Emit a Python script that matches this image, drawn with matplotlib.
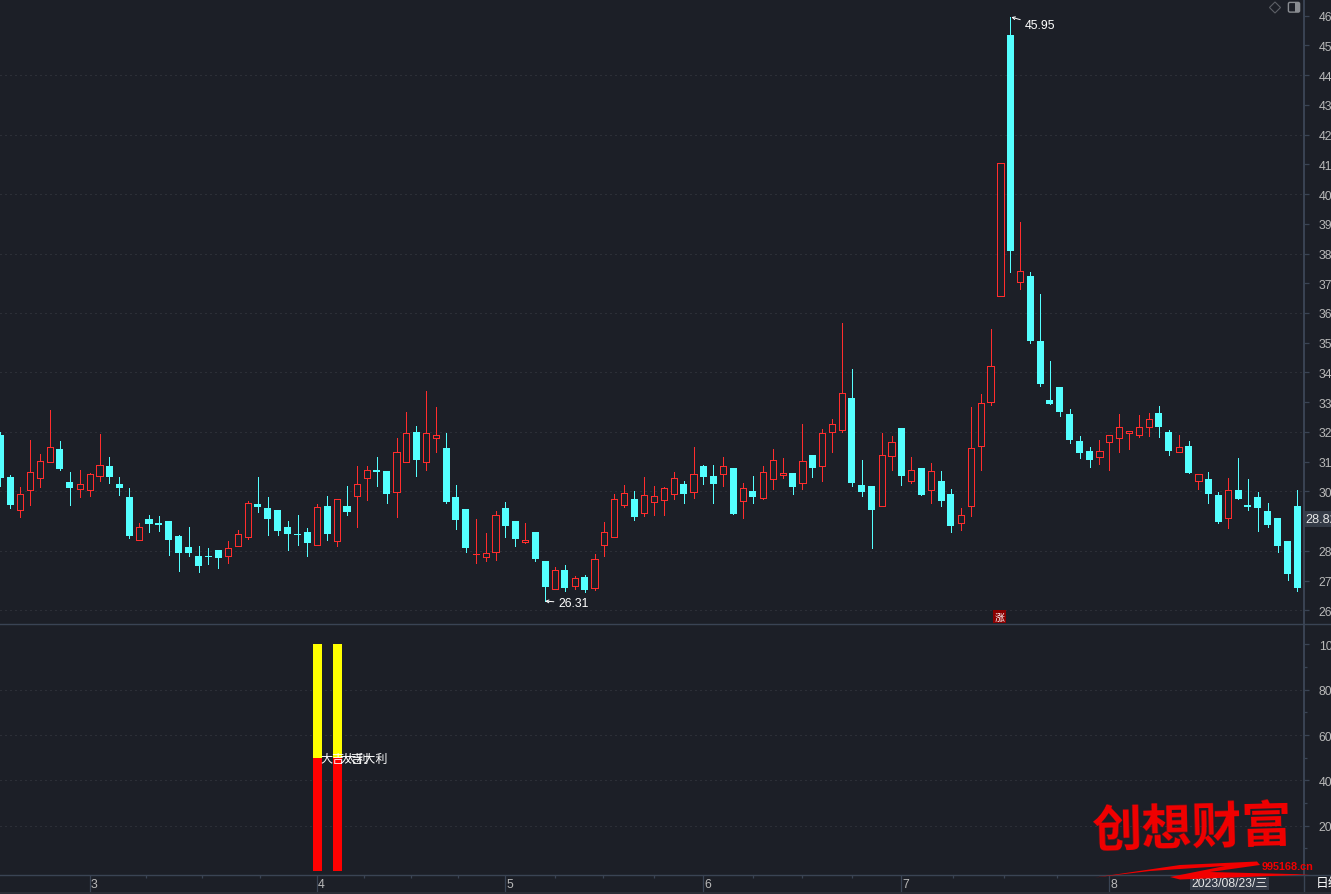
import matplotlib
matplotlib.use('Agg')
import matplotlib.pyplot as plt
from matplotlib.patches import Polygon, Rectangle, FancyBboxPatch
from matplotlib.transforms import ScaledTranslation

plt.rcParams['font.family'] = ['Liberation Sans', 'Noto Sans CJK SC', 'DejaVu Sans']

# candle values, body_top / body_bot are the larger / smaller of open and close
highs = [31.99, 30.55, 30.15, 31.73, 31.26, 32.73, 31.70, 30.65, 30.72, 30.62, 31.93, 31.15,
         30.48, 30.11, 28.93, 29.20, 29.17, 29.00, 28.53, 28.80, 28.16, 28.09, 28.02, 28.33,
         28.70, 29.67, 30.48, 29.81, 29.37, 29.00, 29.20, 28.76, 29.57, 29.84, 29.74, 30.18,
         30.85, 30.85, 31.16, 30.69, 31.80, 32.67, 32.20, 33.38, 32.84, 31.97, 30.21, 29.40,
         29.07, 28.60, 29.34, 29.64, 29.00, 28.93, 28.63, 27.67, 27.45, 27.52, 27.15, 27.18,
         27.89, 28.97, 29.90, 30.21, 30.01, 30.48, 30.18, 30.15, 30.65, 30.35, 31.49, 30.89,
         30.89, 31.16, 30.79, 30.28, 30.52, 30.85, 31.43, 31.12, 30.62, 32.27, 31.23, 32.10,
         32.44, 35.68, 34.13, 31.06, 30.18, 31.97, 31.87, 32.14, 31.16, 30.79, 30.96, 30.69,
         30.08, 29.44, 32.84, 33.28, 35.47, 41.03, 45.95, 39.06, 37.38, 36.64, 34.39, 33.52,
         32.78, 31.87, 31.49, 31.73, 31.89, 32.61, 32.03, 32.57, 32.64, 32.88, 32.07, 31.90,
         31.70, 30.57, 30.65, 29.98, 30.45, 31.12, 30.42, 29.98, 29.61, 29.10, 28.33, 30.04]
body_top = [31.90, 30.48, 29.90, 30.64, 31.01, 31.48, 31.43, 30.31, 30.24, 30.57, 30.88, 30.85,
            30.25, 29.81, 28.79, 29.07, 28.93, 29.00, 28.49, 28.12, 27.82, 27.82, 28.02, 28.11,
            28.58, 29.60, 29.57, 29.44, 29.37, 28.80, 28.56, 28.63, 29.49, 29.51, 29.73, 29.51,
            30.24, 30.71, 30.72, 30.69, 31.32, 31.96, 32.00, 31.96, 31.89, 31.46, 29.81, 29.40,
            27.91, 27.94, 29.22, 29.44, 29.00, 28.38, 28.63, 27.65, 27.34, 27.35, 27.10, 27.11,
            27.74, 28.62, 29.73, 29.93, 29.74, 29.87, 29.83, 30.10, 30.44, 30.25, 30.57, 30.85,
            30.52, 30.84, 30.79, 30.10, 30.01, 30.64, 31.05, 30.61, 30.62, 31.01, 31.23, 31.96,
            32.26, 33.30, 33.15, 30.21, 30.18, 31.21, 31.65, 32.14, 30.71, 30.79, 30.67, 30.35,
            29.91, 29.22, 31.45, 32.97, 34.21, 41.03, 45.35, 37.40, 37.24, 35.07, 33.08, 33.52,
            32.61, 31.70, 31.36, 31.35, 31.89, 32.16, 32.02, 32.16, 32.43, 32.64, 32.00, 31.48,
            31.53, 30.57, 30.42, 29.88, 30.03, 30.04, 29.54, 29.81, 29.34, 29.10, 28.33, 29.51]
body_bot = [30.45, 29.54, 29.38, 30.06, 30.44, 31.00, 30.75, 30.11, 30.09, 30.06, 30.53, 30.48,
            30.11, 28.49, 28.37, 28.90, 28.86, 28.36, 27.92, 27.92, 27.48, 27.79, 27.75, 27.83,
            28.17, 28.47, 29.47, 29.07, 28.66, 28.56, 28.53, 28.26, 28.20, 28.56, 28.34, 29.30,
            29.85, 30.46, 30.65, 29.91, 29.99, 31.00, 31.06, 31.00, 31.81, 29.64, 29.03, 28.09,
            27.88, 27.80, 27.97, 28.83, 28.39, 28.30, 27.72, 26.77, 26.72, 26.74, 26.82, 26.67,
            26.75, 28.20, 28.47, 29.55, 29.13, 29.28, 29.65, 29.72, 29.92, 29.91, 29.99, 30.48,
            30.25, 30.60, 29.24, 29.69, 29.81, 29.78, 30.43, 30.54, 30.15, 30.29, 30.79, 30.87,
            32.01, 32.08, 30.28, 29.98, 29.37, 29.52, 31.20, 30.52, 30.36, 29.88, 30.06, 29.67,
            28.83, 28.94, 29.52, 31.51, 32.99, 36.58, 38.09, 37.05, 35.07, 33.62, 32.94, 32.68,
            31.73, 31.29, 31.06, 31.14, 31.67, 31.78, 31.98, 31.88, 32.18, 32.17, 31.36, 31.34,
            30.62, 30.36, 29.91, 28.97, 29.09, 29.74, 29.47, 29.44, 28.86, 28.16, 27.21, 26.74]
lows = [30.19, 29.45, 29.15, 29.55, 30.16, 31.00, 30.72, 29.55, 29.82, 29.85, 30.36, 30.28,
        29.89, 28.43, 28.37, 28.63, 28.66, 27.85, 27.31, 27.82, 27.28, 27.55, 27.41, 27.58,
        28.17, 28.39, 29.30, 28.53, 28.53, 28.02, 28.19, 27.82, 28.20, 28.36, 28.16, 29.20,
        28.80, 29.71, 30.18, 29.61, 29.13, 31.00, 30.52, 30.72, 31.33, 29.61, 28.73, 27.95,
        27.58, 27.65, 27.68, 28.46, 28.16, 28.26, 27.65, 26.31, 26.72, 26.64, 26.71, 26.61,
        26.67, 27.82, 28.47, 29.47, 29.03, 29.17, 29.20, 29.20, 29.74, 29.61, 29.78, 30.25,
        29.61, 30.18, 29.24, 29.10, 29.61, 29.74, 30.08, 30.45, 29.91, 30.08, 30.48, 30.35,
        31.33, 31.99, 30.18, 29.84, 28.09, 29.52, 30.72, 30.21, 30.28, 29.88, 29.61, 29.51,
        28.63, 28.70, 29.17, 30.72, 32.91, 36.58, 37.38, 36.81, 35.00, 33.55, 32.94, 32.54,
        31.63, 31.12, 30.82, 30.92, 30.72, 31.33, 31.43, 31.83, 31.87, 31.83, 31.23, 31.34,
        30.62, 30.08, 29.61, 28.93, 28.76, 29.74, 29.37, 28.66, 28.80, 27.95, 27.01, 26.64]
up_days = [2, 3, 4, 5, 8, 9, 10, 14, 23, 24, 25, 32, 34, 36, 37, 40, 41, 43, 44, 48, 49, 50,
           53, 56, 58, 60, 61, 62, 63, 65, 66, 67, 68, 70, 73, 75, 77, 78, 79, 81, 83, 84, 85,
           89, 90, 92, 94, 97, 98, 99, 100, 101, 103, 111, 112, 113, 114, 115, 116, 119, 121, 124]

# signal bars in the lower panel
signal_days = [32, 34]
signal_red = [50, 50]
signal_yellow = [50, 50]
signal_text = '大吉大利'

price_ticks = list(range(26, 47))
price_grid = list(range(26, 46, 2))
signal_ticks = [20, 40, 60, 80, 100]
signal_minor = [10, 30, 50, 70, 90]
month_days = [9, 32, 51, 71, 91, 112]
month_labels = ['3', '4', '5', '6', '7', '8']
month_minor = [14.65, 20.4, 26.2, 36.7, 41.5, 46.2, 56, 60.9, 66, 76, 81, 86, 96.2, 101.4, 106.7]
last_price = '28.82'
last_date = '2023/08/23/三'

BG = '#1c1f27'
CYAN = '#54ffff'
RED = '#ff2d2d'
GRID = '#3c4048'
AXIS = '#3a4454'
LABEL = '#b9b9b9'
W, H = 1331, 895

fig = plt.figure(figsize=(W / 100, H / 100), dpi=100, facecolor=BG)
ax1 = fig.add_axes([0, (H - 625) / H, 1304 / W, 625 / H], facecolor=BG)
ax2 = fig.add_axes([0, (H - 876) / H, 1304 / W, 251 / H], facecolor=BG)
over = fig.add_axes([0, 0, 1, 1], zorder=20)
over.set_xlim(0, W)
over.set_ylim(H, 0)
over.axis('off')
over.patch.set_visible(False)

xlim = (-0.05, 131.66)
for ax in (ax1, ax2):
    ax.set_xlim(*xlim)
    for side in ('top', 'left', 'bottom'):
        ax.spines[side].set_visible(False)
    ax.spines['right'].set_color(AXIS)
    ax.spines['right'].set_linewidth(1.4)
    ax.yaxis.tick_right()
ax1.set_ylim(25.54, 46.56)
ax2.set_ylim(-1.77, 109)

# candles
days = list(range(len(highs)))
up_x = [d for d in days if d in up_days]
down_x = [d for d in days if d not in up_days]

ax1.vlines(down_x, [lows[d] for d in down_x], [highs[d] for d in down_x], color=CYAN, lw=0.72,
           antialiased=False, zorder=3)
ax1.bar(down_x, [body_top[d] - body_bot[d] for d in down_x], bottom=[body_bot[d] for d in down_x],
        width=0.71, color=CYAN, linewidth=0, antialiased=False, zorder=4)

ax1.vlines(up_x, [body_top[d] for d in up_x], [highs[d] for d in up_x], color=RED, lw=0.72,
           antialiased=False, zorder=3)
ax1.vlines(up_x, [lows[d] for d in up_x], [body_bot[d] for d in up_x], color=RED, lw=0.72,
           antialiased=False, zorder=3)
ax1.bar(up_x, [body_top[d] - body_bot[d] for d in up_x], bottom=[body_bot[d] for d in up_x],
        width=0.62, facecolor=BG, edgecolor=RED, linewidth=0.72, antialiased=False, zorder=4)

for p in price_grid:
    ax1.axhline(p, color=GRID, lw=0.72, ls=(0, (1, 4)), zorder=1)
for v in signal_ticks[:-1]:
    ax2.axhline(v, color=GRID, lw=0.72, ls=(0, (1, 4)), zorder=1)

# high and low flags
ax1.annotate('45.95', xy=(102.1, 45.95), xytext=(13, -8), textcoords='offset pixels',
             color='white', fontsize=8.8, va='center', annotation_clip=False,
             arrowprops=dict(arrowstyle='->', color='white', lw=0.7, mutation_scale=5,
                             shrinkA=1, shrinkB=0))
ax1.annotate('26.31', xy=(55, 26.31), xytext=(13, -2), textcoords='offset pixels',
             color='white', fontsize=8.8, va='center', annotation_clip=False,
             arrowprops=dict(arrowstyle='->', color='white', lw=0.7, mutation_scale=5,
                             shrinkA=1, shrinkB=0))

# signal panel
ax2.bar(signal_days, signal_red, width=0.91, color='#ff0000', linewidth=0, zorder=3)
ax2.bar(signal_days, signal_yellow, bottom=signal_red, width=0.91, color='#ffff00', linewidth=0, zorder=3)
for d, v in zip(signal_days, signal_red):
    ax2.text(d + 0.27, v - 0.7, signal_text, color='white', fontsize=8.7, va='center', ha='left', zorder=5)

# axis ticks
ax1.set_xticks([])
ax1.set_yticks(price_ticks)
ax1.set_yticklabels(['' if p == 29 else str(p) for p in price_ticks])
ax1.tick_params(axis='y', colors=LABEL, color=AXIS, length=3.8, width=0.9, labelsize=8.8, pad=6.8)
ax2.set_yticks(signal_ticks)
ax2.set_yticklabels([str(v) for v in signal_ticks])
ax2.set_yticks(signal_minor, minor=True)
ax2.tick_params(axis='y', colors=LABEL, color=AXIS, length=3.8, width=0.9, labelsize=8.8, pad=6.8)
ax2.tick_params(axis='y', which='minor', color=AXIS, length=2, width=0.9)
ax2.set_xticks(month_days)
ax2.set_xticklabels(month_labels)
ax2.set_xticks(month_minor, minor=True)
ax2.tick_params(axis='x', which='major', color=AXIS, labelcolor=LABEL, length=12, width=0.9,
                labelsize=8.8, pad=-9.5)
ax2.tick_params(axis='x', which='minor', color=AXIS, length=2, width=0.9)
shift = ScaledTranslation(0.5 / 72, 0, fig.dpi_scale_trans)
for lab in ax2.get_xticklabels():
    lab.set_ha('left')
    lab.set_transform(lab.get_transform() + shift)

# frame lines around the panels
over.plot([0, W], [625, 625], color=AXIS, lw=1.0)
over.plot([0, W], [876, 876], color=AXIS, lw=1.0)
over.plot([1304, 1304], [876, H], color=AXIS, lw=1.0)
over.plot([0, W], [894, 894], color='#2a2e37', lw=1.4)

# last price tag
over.add_patch(Rectangle((1305, 512), W - 1305, 15.5, facecolor='#343b47', edgecolor='none'))
over.text(1305.5, 519.8, last_price, color='#e6e6e6', fontsize=9.2, va='center', ha='left')

# date box and period label
over.add_patch(Rectangle((1190, 878), 79, 13, facecolor='#333a47', edgecolor='none', zorder=2))
over.text(1229.5, 884.5, last_date, color='#e6e6e6', fontsize=8.7, va='center', ha='center', zorder=3)
over.text(1316, 884.5, '日线', color='white', fontsize=9.2, va='center', ha='left')

# icons top right
over.add_patch(Polygon([(1275, 3), (1280.5, 8.5), (1275, 14), (1269.5, 8.5)], closed=True,
                       facecolor='none', edgecolor='#5c5f66', lw=0.8))
over.add_patch(FancyBboxPatch((1289, 4), 10, 8.5, boxstyle='round,pad=0.6,rounding_size=1.5',
                              facecolor='none', edgecolor='#8a8d92', lw=1.0))
over.add_patch(Rectangle((1294.5, 4), 4.5, 8.5, facecolor='#8a8d92', edgecolor='none'))

# rise marker
over.add_patch(Rectangle((993, 611), 13, 12.5, facecolor='#8a0000', edgecolor='none'))
over.text(999.5, 617.5, '涨', color='white', fontsize=7.2, va='center', ha='center')

# watermark
over.text(1192, 830, '创想财富', color='#f20000', fontsize=36, fontweight='bold', va='center',
          ha='center', family=['Noto Sans CJK SC', 'DejaVu Sans'], rotation=1.5, zorder=5)
over.add_patch(Polygon([(1095, 878.5), (1180, 866), (1257, 862.5), (1260, 866), (1210, 873),
                        (1310, 875.5), (1180, 880.5), (1170, 878), (1225, 867), (1150, 872)],
                       closed=True, facecolor='#f20000', edgecolor='none', zorder=5))
over.text(1262, 867, '995168.cn', color='#f20000', fontsize=7.8, fontweight='bold', va='center',
          ha='left', zorder=6)

fig.savefig('out.png', dpi=100, facecolor=BG)
